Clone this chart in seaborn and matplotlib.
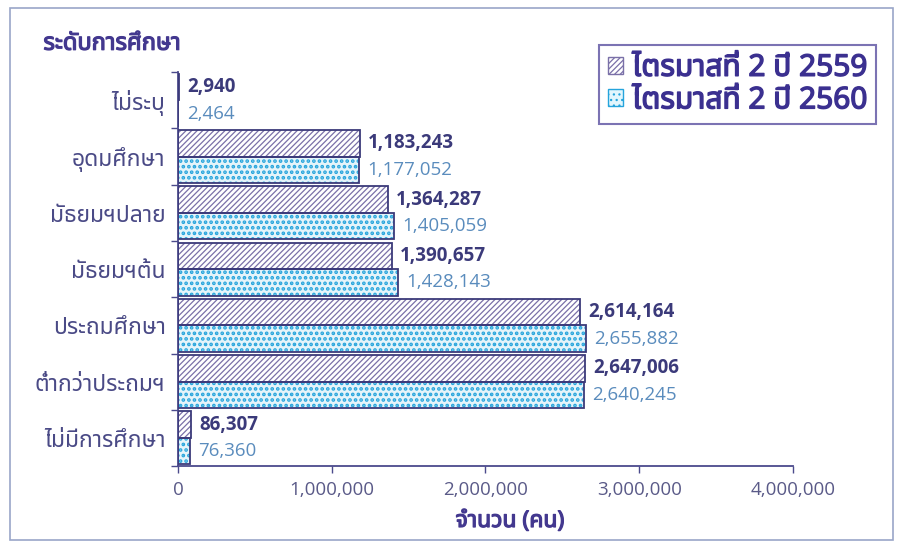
import matplotlib
matplotlib.use('Agg')
import matplotlib.pyplot as plt
import matplotlib.patheffects as pe
from matplotlib.patches import Rectangle, Patch
from matplotlib.ticker import FuncFormatter, FixedLocator
import seaborn as sns
import pandas as pd

# data
levels = ['ไม่ระบุ', 'อุดมศึกษา', 'มัธยมฯปลาย', 'มัธยมฯต้น',
          'ประถมศึกษา', 'ต่ำกว่าประถมฯ', 'ไม่มีการศึกษา']
q2_2559 = [2940, 1183243, 1364287, 1390657, 2614164, 2647006, 86307]
q2_2560 = [2464, 1177052, 1405059, 1428143, 2655882, 2640245, 76360]
series = ['ไตรมาสที่ 2 ปี 2559', 'ไตรมาสที่ 2 ปี 2560']

df = pd.DataFrame({
    'level': levels * 2,
    'value': q2_2559 + q2_2560,
    'period': [series[0]] * len(levels) + [series[1]] * len(levels),
})

sns.set_style('white')
plt.rcParams['font.family'] = ['Noto Sans Thai', 'Noto Sans', 'DejaVu Sans']
plt.rcParams['hatch.linewidth'] = 0.9
num_font = ['Open Sans', 'DejaVu Sans']

navy = '#3b3a7a'
axis_col = '#4b4a8c'
lbl_blue = '#5a8cbd'
title_col = '#43388f'
dot_fill = '#e2f6fd'


def fake_bold(col, w=0.9):
    # thai font has no bold face, thicken it with a stroke
    return [pe.withStroke(linewidth=w, foreground=col)]


fig = plt.figure(figsize=(9.04, 5.47), dpi=100)
ax = fig.add_axes([0.197, 0.148, 0.68, 0.72])

sns.barplot(data=df, y='level', x='value', hue='period', orient='h',
            order=levels, hue_order=series, width=0.94, ax=ax, legend=False,
            palette=['white', dot_fill])

styles = [('//////', '#7a70a8', 0.9), ('...', '#25a4dc', 1.8)]
for k, cont in enumerate(ax.containers):
    hatch, hc, hlw = styles[k]
    for p in cont.patches:
        p.set_hatch(hatch)
        p.set_edgecolor(hc)
        p.set_linewidth(0)
        if hasattr(p, 'set_hatch_linewidth'):
            p.set_hatch_linewidth(hlw)
        ax.add_patch(Rectangle((p.get_x(), p.get_y()), p.get_width(), p.get_height(),
                               fill=False, edgecolor=navy, linewidth=1.3, zorder=3))

# value labels
for k, cont in enumerate(ax.containers):
    vals = [q2_2559, q2_2560][k]
    for p, v in zip(cont.patches, vals):
        ax.annotate(f'{v:,}', (p.get_x() + p.get_width(), p.get_y() + p.get_height() / 2),
                    xytext=(6, 0), textcoords='offset points', va='center', ha='left',
                    fontsize=13.5, family=num_font, color=navy if k == 0 else lbl_blue,
                    fontweight='bold' if k == 0 else 'normal')

ax.set_xlim(0, 4000000)
ax.set_ylim(len(levels) - 0.5, -0.5)
ax.xaxis.set_major_formatter(FuncFormatter(lambda v, _: f'{int(v):,}'))
ax.set_xticks([0, 1000000, 2000000, 3000000, 4000000])
ax.yaxis.set_minor_locator(FixedLocator([i - 0.5 for i in range(len(levels) + 1)]))
ax.tick_params(axis='y', which='major', length=0, pad=9, labelsize=16.5, labelcolor='#4a4a86')
ax.tick_params(axis='y', which='minor', left=True, length=5, color=axis_col, width=1)
ax.tick_params(axis='x', bottom=True, length=5, color=axis_col, width=1,
               labelsize=13.5, labelcolor='#5a5a88', pad=6)
for t in ax.get_xticklabels():
    t.set_family(num_font)

for s in ['top', 'right']:
    ax.spines[s].set_visible(False)
for s in ['left', 'bottom']:
    ax.spines[s].set_color(axis_col)
    ax.spines[s].set_linewidth(1.3)

ax.set_ylabel('')
ax.set_xlabel('')
fig.text(510 / 904, 1 - 521 / 547, 'จำนวน (คน)', fontsize=16.5, color=title_col,
         ha='center', va='center', path_effects=fake_bold(title_col))
fig.text(0.048, 0.92, 'ระดับการศึกษา', fontsize=17, color=title_col, va='center',
         path_effects=fake_bold(title_col))

handles = [Patch(facecolor='white', edgecolor='#7a70a8', hatch='//////'),
           Patch(facecolor=dot_fill, edgecolor='#25a4dc', hatch='...')]
leg = fig.legend(handles, series, loc='upper right', bbox_to_anchor=(0.969, 0.918),
                 borderaxespad=0, frameon=True, fancybox=False, fontsize=21.5,
                 handlelength=0.5, handleheight=0.5, handletextpad=0.3,
                 borderpad=0.3, labelspacing=0.12)
leg.get_frame().set_edgecolor('#5a50a0')
leg.get_frame().set_linewidth(1.5)
for t in leg.get_texts():
    t.set_color('#3b3090')
    t.set_path_effects(fake_bold('#3b3090', 1.0))

fig.add_artist(Rectangle((0.011, 0.012), 0.977, 0.973, transform=fig.transFigure,
                         fill=False, edgecolor='#9aa6c8', linewidth=1.2))

fig.savefig('out.png', dpi=100)
